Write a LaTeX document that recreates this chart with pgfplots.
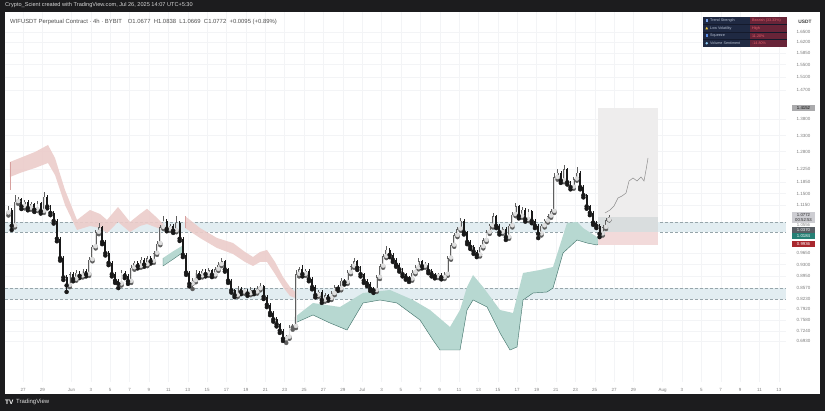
\documentclass[border=0pt]{standalone}
\usepackage{fontspec}
\setmainfont{Liberation Sans}
\usepackage{pgfplots}
\pgfplotsset{compat=1.18}
\usepackage{pgfplotstable}

\definecolor{bgdark}{RGB}{28,28,30}
\definecolor{gridc}{RGB}{243,244,246}
\definecolor{tickc}{RGB}{125,125,125}
\definecolor{upc}{RGB}{95,95,95}
\definecolor{dnc}{RGB}{25,25,25}
\definecolor{zonec}{RGB}{226,237,241}
\definecolor{zoneline}{RGB}{150,165,170}
\definecolor{redband}{RGB}{236,204,202}
\definecolor{redline}{RGB}{215,160,158}
\definecolor{grnband}{RGB}{183,216,209}
\definecolor{grnline}{RGB}{70,118,110}
\definecolor{boxgray}{RGB}{238,237,237}
\definecolor{boxdark}{RGB}{212,217,219}
\definecolor{boxred}{RGB}{242,218,218}
\definecolor{projc}{RGB}{140,140,140}
\definecolor{tnavy}{RGB}{31,41,66}
\definecolor{tmaroon}{RGB}{104,36,56}
\definecolor{tsep}{RGB}{20,26,44}
\definecolor{tleft}{RGB}{185,195,212}
\definecolor{tright}{RGB}{232,96,108}
\definecolor{icA}{RGB}{120,160,230}
\definecolor{icB}{RGB}{240,200,60}
\definecolor{icC}{RGB}{90,140,230}
\definecolor{icD}{RGB}{140,200,240}
\definecolor{titlec}{RGB}{215,215,215}
\definecolor{headc}{RGB}{80,80,80}
\definecolor{usdtc}{RGB}{60,60,60}
\definecolor{hlA}{RGB}{170,170,172}
\definecolor{hlB}{RGB}{205,205,210}
\definecolor{hlC}{RGB}{88,94,100}
\definecolor{hlD}{RGB}{38,128,118}
\definecolor{hlE}{RGB}{168,40,46}
\definecolor{darktext}{RGB}{40,40,40}
\definecolor{footc}{RGB}{225,225,225}

% 8h candles, n = candle index, day = (n-4.5)/3 counted from May 27
\pgfplotstableread{
n o h l c
0 1.090 1.112 1.082 1.100
1 1.100 1.104 1.037 1.050
2 1.050 1.146 1.045 1.125
3 1.125 1.140 1.118 1.132
4 1.132 1.136 1.102 1.110
5 1.110 1.131 1.104 1.125
6 1.125 1.129 1.098 1.105
7 1.105 1.124 1.100 1.118
8 1.118 1.122 1.093 1.100
9 1.100 1.127 1.096 1.120
10 1.120 1.124 1.088 1.095
11 1.095 1.155 1.090 1.140
12 1.140 1.145 1.104 1.110
13 1.110 1.116 1.083 1.090
14 1.090 1.095 1.057 1.065
15 1.065 1.070 1.002 1.010
16 1.010 1.016 0.942 0.950
17 0.950 0.956 0.882 0.890
18 0.890 0.896 0.845 0.865
19 0.865 0.908 0.860 0.900
20 0.900 0.906 0.878 0.885
21 0.885 0.912 0.880 0.905
22 0.905 0.910 0.888 0.895
23 0.895 0.917 0.890 0.910
24 0.910 0.915 0.893 0.900
25 0.900 0.952 0.895 0.945
26 0.945 0.992 0.940 0.985
27 0.985 1.038 0.980 1.030
28 1.030 1.060 1.024 1.045
29 1.045 1.050 0.993 1.000
30 1.000 1.006 0.958 0.965
31 0.965 0.971 0.928 0.935
32 0.935 0.940 0.893 0.900
33 0.900 0.906 0.873 0.880
34 0.880 0.885 0.857 0.870
35 0.870 0.912 0.865 0.905
36 0.905 0.911 0.888 0.895
37 0.895 0.900 0.870 0.878
38 0.878 0.927 0.873 0.920
39 0.920 0.942 0.914 0.935
40 0.935 0.940 0.918 0.925
41 0.925 0.952 0.920 0.945
42 0.945 0.950 0.923 0.930
43 0.930 0.957 0.925 0.950
44 0.950 0.955 0.933 0.940
45 0.940 0.972 0.935 0.965
46 0.965 1.002 0.960 0.995
47 0.995 1.052 0.990 1.045
48 1.045 1.080 1.040 1.065
49 1.065 1.070 1.033 1.040
50 1.040 1.057 1.034 1.050
51 1.050 1.055 1.028 1.035
52 1.035 1.080 1.030 1.060
53 1.060 1.065 1.003 1.010
54 1.010 1.015 0.953 0.960
55 0.960 0.966 0.898 0.905
56 0.905 0.910 0.862 0.870
57 0.870 0.887 0.854 0.880
58 0.880 0.912 0.875 0.905
59 0.905 0.910 0.888 0.895
60 0.895 0.917 0.890 0.910
61 0.910 0.915 0.893 0.900
62 0.900 0.919 0.895 0.912
63 0.912 0.917 0.891 0.898
64 0.898 0.922 0.893 0.915
65 0.915 0.937 0.910 0.930
66 0.930 0.950 0.925 0.940
67 0.940 0.945 0.908 0.915
68 0.915 0.920 0.873 0.880
69 0.880 0.885 0.843 0.850
70 0.850 0.855 0.829 0.835
71 0.835 0.862 0.830 0.855
72 0.855 0.860 0.838 0.845
73 0.845 0.857 0.840 0.850
74 0.850 0.855 0.833 0.840
75 0.840 0.859 0.835 0.852
76 0.852 0.857 0.838 0.845
77 0.845 0.862 0.840 0.855
78 0.855 0.873 0.850 0.862
79 0.862 0.867 0.823 0.830
80 0.830 0.835 0.798 0.805
81 0.805 0.810 0.773 0.780
82 0.780 0.786 0.753 0.760
83 0.760 0.766 0.738 0.745
84 0.745 0.750 0.718 0.725
85 0.725 0.730 0.693 0.700
86 0.700 0.712 0.687 0.705
87 0.705 0.742 0.700 0.735
88 0.735 0.745 0.728 0.738
89 0.738 0.913 0.733 0.900
90 0.900 0.922 0.893 0.915
91 0.915 0.928 0.893 0.900
92 0.900 0.917 0.895 0.910
93 0.910 0.915 0.878 0.885
94 0.885 0.890 0.853 0.860
95 0.860 0.865 0.828 0.835
96 0.835 0.852 0.830 0.845
97 0.845 0.850 0.811 0.820
98 0.820 0.842 0.815 0.835
99 0.835 0.840 0.818 0.825
100 0.825 0.847 0.820 0.840
101 0.840 0.867 0.835 0.860
102 0.860 0.865 0.848 0.855
103 0.855 0.887 0.850 0.880
104 0.880 0.885 0.868 0.875
105 0.875 0.912 0.870 0.905
106 0.905 0.932 0.900 0.925
107 0.925 0.950 0.920 0.940
108 0.940 0.945 0.913 0.920
109 0.920 0.925 0.893 0.900
110 0.900 0.905 0.873 0.880
111 0.880 0.885 0.863 0.870
112 0.870 0.875 0.848 0.855
113 0.855 0.860 0.842 0.850
114 0.850 0.897 0.845 0.890
115 0.890 0.932 0.885 0.925
116 0.925 0.962 0.920 0.955
117 0.955 0.987 0.950 0.975
118 0.975 0.980 0.953 0.960
119 0.960 0.965 0.938 0.945
120 0.945 0.950 0.923 0.930
121 0.930 0.935 0.908 0.915
122 0.915 0.920 0.893 0.900
123 0.900 0.905 0.883 0.890
124 0.890 0.895 0.876 0.885
125 0.885 0.912 0.880 0.905
126 0.905 0.927 0.900 0.920
127 0.920 0.950 0.915 0.940
128 0.940 0.945 0.918 0.925
129 0.925 0.937 0.920 0.930
130 0.930 0.935 0.903 0.910
131 0.910 0.915 0.893 0.900
132 0.900 0.905 0.887 0.893
133 0.893 0.905 0.888 0.898
134 0.898 0.903 0.884 0.890
135 0.890 0.907 0.885 0.900
136 0.900 0.957 0.895 0.950
137 0.950 0.997 0.945 0.990
138 0.990 1.027 0.985 1.020
139 1.020 1.047 1.015 1.040
140 1.040 1.074 1.035 1.065
141 1.065 1.070 1.023 1.030
142 1.030 1.035 0.993 1.000
143 1.000 1.005 0.978 0.985
144 0.985 0.990 0.963 0.970
145 0.970 0.975 0.953 0.960
146 0.960 0.992 0.955 0.985
147 0.985 1.012 0.980 1.005
148 1.005 1.037 1.000 1.030
149 1.030 1.057 1.025 1.050
150 1.050 1.090 1.045 1.080
151 1.080 1.085 1.043 1.050
152 1.050 1.055 1.023 1.030
153 1.030 1.047 1.025 1.040
154 1.040 1.045 1.006 1.015
155 1.015 1.057 1.010 1.050
156 1.050 1.092 1.045 1.085
157 1.085 1.121 1.080 1.110
158 1.110 1.115 1.073 1.080
159 1.080 1.107 1.075 1.100
160 1.100 1.105 1.063 1.070
161 1.070 1.102 1.065 1.095
162 1.095 1.100 1.058 1.065
163 1.065 1.070 1.043 1.050
164 1.050 1.055 1.012 1.025
165 1.025 1.057 1.020 1.050
166 1.050 1.072 1.045 1.065
167 1.065 1.087 1.060 1.080
168 1.080 1.102 1.075 1.095
169 1.095 1.214 1.090 1.200
170 1.200 1.225 1.193 1.215
171 1.215 1.220 1.183 1.190
172 1.190 1.238 1.185 1.225
173 1.225 1.230 1.178 1.185
174 1.185 1.190 1.163 1.170
175 1.170 1.202 1.165 1.195
176 1.195 1.232 1.190 1.215
177 1.215 1.220 1.163 1.170
178 1.170 1.175 1.138 1.145
179 1.145 1.150 1.103 1.110
180 1.110 1.115 1.083 1.090
181 1.090 1.095 1.053 1.060
182 1.060 1.065 1.043 1.050
183 1.050 1.055 1.015 1.025
184 1.025 1.052 1.020 1.045
185 1.045 1.074 1.040 1.0677
186 1.0677 1.0838 1.0669 1.0772
}\candles

\begin{document}
\begin{tikzpicture}
\fill[bgdark] (0,0) rectangle (825pt,411pt);
\fill[white] (5pt,17pt) rectangle (820pt,399pt);
\begin{axis}[
    at={(5pt,29pt)}, anchor=south west,
    scale only axis, width=781pt, height=370pt,
    xmin=-1.858, xmax=78.74, ymin=0.5658, ymax=1.7128,
    axis line style={draw=none}, tick style={draw=none},
    grid=major, grid style={gridc, line width=0.35pt},
    xtick={0,2,5,7,9,11,13,15,17,19,21,23,25,27,29,31,33,35,37,39,41,43,45,47,49,51,53,55,57,59,61,63,66,68,70,72,74,76,78},
    xticklabels={27,29,Jun,3,5,7,9,11,13,15,17,19,21,23,25,27,29,Jul,3,5,7,9,11,13,15,17,19,21,23,25,27,29,Aug,3,5,7,9,11,13},
    ytick={0.6930,0.7240,0.7580,0.7920,0.8230,0.8570,0.8950,0.9300,0.9650,1.1150,1.1500,1.1850,1.2250,1.2800,1.3300,1.3800,1.4700,1.5100,1.5500,1.5850,1.6200,1.6500},
    yticklabel pos=right,
    ticklabel style={font=\fontsize{4.5}{5}\selectfont, text=tickc},
    xticklabel style={yshift=-3pt},
    yticklabel style={xshift=7pt, /pgf/number format/fixed, /pgf/number format/fixed zerofill, /pgf/number format/precision=4},
    /pgf/number format/assume math mode=true,
]
% support / resistance zones
\addplot[fill=zonec, draw=none] coordinates {(-1.858,1.0618) (78.74,1.0618) (78.74,1.0308) (-1.858,1.0308)};
\addplot[fill=zonec, draw=none] coordinates {(-1.858,0.8572) (78.74,0.8572) (78.74,0.8231) (-1.858,0.8231)};
\addplot[zoneline, densely dashed, line width=0.4pt] coordinates {(-1.858,1.0618) (78.74,1.0618)};
\addplot[zoneline, densely dashed, line width=0.4pt] coordinates {(-1.858,1.0308) (78.74,1.0308)};
\addplot[zoneline, densely dashed, line width=0.4pt] coordinates {(-1.858,0.8572) (78.74,0.8572)};
\addplot[zoneline, densely dashed, line width=0.4pt] coordinates {(-1.858,0.8231) (78.74,0.8231)};

% bearish bands
\addplot[fill=redband, draw=none, fill opacity=0.9] coordinates {
(-1.342,1.2478) (-0.310,1.2602) (1.238,1.2788) (2.580,1.3005) (3.302,1.2602) (4.334,1.161) (5.573,1.068) (6.914,1.099) (7.946,1.0866) (8.669,1.068) (9.804,1.1083) (11.042,1.0618) (12.074,1.0866) (12.797,1.1028) (13.622,1.0804) (14.448,1.0556)
(14.448,1.037) (13.622,1.0463) (12.797,1.0556) (12.074,1.0494) (11.042,1.0308) (9.804,1.0618) (8.669,1.0277) (7.946,1.0432) (6.914,1.0494) (5.573,1.037) (4.334,1.1145) (3.302,1.2075) (2.580,1.2447) (1.238,1.2292) (-0.310,1.2137) (-1.342,1.2013)};
\addplot[redline, line width=0.5pt] coordinates {(-1.342,1.161) (-1.342,1.2478)};
\addplot[fill=redband, draw=none, fill opacity=0.9] coordinates {
(16.718,1.0804) (18.266,1.0432) (20.021,1.0122) (21.672,0.9967) (22.910,0.9688) (23.736,0.9533) (24.458,0.9688) (25.181,0.975) (26.006,0.9378) (26.832,0.8913) (27.554,0.8603) (28.070,0.8448)
(28.070,0.8262) (27.554,0.8324) (26.832,0.8603) (26.006,0.9006) (25.181,0.9378) (24.458,0.9378) (23.736,0.9254) (22.910,0.9378) (21.672,0.9626) (20.021,0.9812) (18.266,1.0122) (16.718,1.0432)};
\addplot[redline, line width=0.5pt] coordinates {(16.718,1.0432) (16.718,1.0804)};

% bullish bands
\addplot[fill=grnband, draw=none] coordinates {
(14.448,0.950) (15.377,0.9688) (16.409,0.9874) (16.409,0.9657) (15.377,0.944) (14.448,0.9254)};
\addplot[grnline, line width=0.4pt] coordinates {(14.448,0.950) (14.448,0.9254) (15.377,0.944) (16.409,0.9657)};
\addplot[fill=grnband, draw=none] coordinates {
(28.070,0.7673) (29.928,0.8107) (32.714,0.7983) (35.088,0.8417) (37.874,0.851) (40.248,0.82) (42.002,0.789) (44.066,0.7363) (45.098,0.789) (45.820,0.8603) (46.440,0.8975) (47.472,0.8603) (49.226,0.789) (50.568,0.7797) (51.600,0.9037) (53.354,0.913) (54.696,0.9223) (56.141,1.0587) (57.172,1.0618) (57.792,1.0432) (59.236,1.0153) (59.856,1.0184) (60.578,1.037)
(60.578,1.0122) (59.236,0.9905) (58.204,0.9967) (57.172,1.006) (55.728,0.9657) (54.696,0.8572) (54.077,0.8448) (52.632,0.8417) (51.600,0.82) (50.981,0.6743) (50.258,0.665) (49.226,0.7177) (47.884,0.7983) (46.440,0.82) (45.820,0.789) (45.098,0.665) (43.034,0.665) (42.312,0.696) (40.970,0.758) (38.596,0.8107) (36.842,0.82) (35.088,0.8107) (33.437,0.727) (31.682,0.7487) (29.928,0.7735) (28.070,0.7487)};
\addplot[grnline, line width=0.45pt] coordinates {
(60.578,1.0122) (59.236,0.9905) (58.204,0.9967) (57.172,1.006) (55.728,0.9657) (54.696,0.8572) (54.077,0.8448) (52.632,0.8417) (51.600,0.82) (50.981,0.6743) (50.258,0.665) (49.226,0.7177) (47.884,0.7983) (46.440,0.82) (45.820,0.789) (45.098,0.665) (43.034,0.665) (42.312,0.696) (40.970,0.758) (38.596,0.8107) (36.842,0.82) (35.088,0.8107) (33.437,0.727) (31.682,0.7487) (29.928,0.7735) (28.070,0.7487) (28.070,0.7673)};

% long position tool
\addplot[fill=boxgray, draw=none] coordinates {(59.339,1.0308) (65.531,1.0308) (65.531,1.4152) (59.339,1.4152)};
\addplot[fill=boxdark, draw=none, fill opacity=0.8] coordinates {(59.339,1.0308) (65.531,1.0308) (65.531,1.0772) (59.339,1.0772)};
\addplot[fill=boxred, draw=none] coordinates {(59.339,0.9905) (65.531,0.9905) (65.531,1.0308) (59.339,1.0308)};

% candles: wicks
\addplot[only marks, mark=none, color=upc, restrict expr to domain={\thisrow{c}-\thisrow{o}}{0:1},
  error bars/.cd, y dir=plus, y explicit, error mark=none, error bar style={line width=0.5pt}]
  table[x expr=(\thisrow{n}-4.5)/3, y=l, y error expr=\thisrow{h}-\thisrow{l}] {\candles};
\addplot[only marks, mark=none, color=dnc, restrict expr to domain={\thisrow{c}-\thisrow{o}}{-1:0},
  error bars/.cd, y dir=plus, y explicit, error mark=none, error bar style={line width=0.5pt}]
  table[x expr=(\thisrow{n}-4.5)/3, y=l, y error expr=\thisrow{h}-\thisrow{l}] {\candles};
% candles: bodies (up candles hollow)
\addplot[only marks, mark=none, color=upc, restrict expr to domain={\thisrow{c}-\thisrow{o}}{0:1},
  error bars/.cd, y dir=plus, y explicit, error mark=none, error bar style={line width=1.9pt}]
  table[x expr=(\thisrow{n}-4.5)/3, y=o, y error expr=\thisrow{c}-\thisrow{o}] {\candles};
\addplot[only marks, mark=none, color=white!80!upc, restrict expr to domain={\thisrow{c}-\thisrow{o}}{0.004:1},
  error bars/.cd, y dir=plus, y explicit, error mark=none, error bar style={line width=0.8pt}]
  table[x expr=(\thisrow{n}-4.5)/3, y expr=\thisrow{o}+0.0015, y error expr=\thisrow{c}-\thisrow{o}-0.003] {\candles};
\addplot[only marks, mark=none, color=dnc, restrict expr to domain={\thisrow{c}-\thisrow{o}}{-1:0},
  error bars/.cd, y dir=plus, y explicit, error mark=none, error bar style={line width=1.9pt}]
  table[x expr=(\thisrow{n}-4.5)/3, y=c, y error expr=\thisrow{o}-\thisrow{c}] {\candles};

% projected path
\addplot[projc, line width=0.5pt] coordinates {
(60.062,1.0897) (60.578,1.099) (60.991,1.1114) (61.403,1.1362) (61.816,1.1424) (62.229,1.1517) (62.539,1.1889) (62.951,1.1982) (63.364,1.1889) (63.777,1.2013) (64.087,1.1889) (64.293,1.223) (64.500,1.2602)};
\end{axis}

% header lines
\node[anchor=west, inner sep=0, text=titlec, font=\fontsize{5.6}{6}\selectfont] at (5pt,405.5pt)
  {Crypto\_Scient created with TradingView.com, Jul 26, 2025 14:07 UTC+5:30};
\node[anchor=west, inner sep=0, text=headc, font=\fontsize{5.9}{6.5}\selectfont] at (10pt,389pt)
  {WIFUSDT Perpetual Contract · 4h · BYBIT\quad O1.0677\ \ H1.0838\ \ L1.0669\ \ C1.0772\ \ +0.0095 (+0.89\%)};
\node[anchor=center, inner sep=0, text=usdtc, font=\fontsize{4.8}{5}\selectfont\bfseries] at (805pt,389pt) {USDT};

% indicator table
\fill[tnavy] (703pt,394pt) rectangle (750pt,364pt);
\fill[tmaroon] (750pt,394pt) rectangle (787pt,364pt);
\foreach \yy in {386.5,379,371.5} {\draw[tsep, line width=0.3pt] (703pt,\yy pt) -- (787pt,\yy pt);}
\fill[icA] (705.5pt,389pt) rectangle (708pt,391.5pt);
\fill[icB] (705.3pt,381.5pt) -- (708.2pt,381.5pt) -- (706.75pt,384.2pt) -- cycle;
\fill[icC] (705.5pt,374pt) rectangle (708pt,376.5pt);
\fill[icD] (706.75pt,367.75pt) circle (1.3pt);
\begin{scope}[every node/.style={anchor=west, inner sep=0, font=\fontsize{3.7}{4}\selectfont}]
\node[text=tleft] at (710pt,390.25pt) {Trend Strength};
\node[text=tleft] at (710pt,382.75pt) {Low Volatility};
\node[text=tleft] at (710pt,375.25pt) {Squeeze};
\node[text=tleft] at (710pt,367.75pt) {Volume Sentiment};
\node[text=tright] at (752pt,390.25pt) {Bearish (33.33\%)};
\node[text=tright] at (752pt,382.75pt) {High};
\node[text=tright] at (752pt,375.25pt) {11.20\%};
\node[text=tright] at (752pt,367.75pt) {-14.80\%};
\end{scope}

% price scale highlights
\begin{scope}[every node/.style={anchor=center, inner sep=0, font=\fontsize{4.3}{4.6}\selectfont}]
\fill[hlA] (792pt,300pt) rectangle (815pt,306pt);
\node[text=black] at (803.5pt,303pt) {1.4152};
\fill[hlB] (792pt,188pt) rectangle (815pt,199pt);
\node[text=darktext] at (803.5pt,196pt) {1.0772};
\node[text=darktext] at (803.5pt,191pt) {00:52:53};
\node[text=tickc] at (803.5pt,185.5pt) {1.0556};
\fill[hlC] (792pt,178pt) rectangle (815pt,183.5pt);
\node[text=white] at (803.5pt,180.75pt) {1.0370};
\fill[hlD] (792pt,172pt) rectangle (815pt,177.5pt);
\node[text=white] at (803.5pt,174.75pt) {1.0184};
\fill[hlE] (792pt,164pt) rectangle (815pt,170pt);
\node[text=white] at (803.5pt,167pt) {0.9936};
\end{scope}

% footer logo
\node[anchor=west, inner sep=0, text=white, font=\fontsize{6.5}{7}\selectfont\bfseries] at (5pt,9pt) {TV};
\node[anchor=west, inner sep=0, text=footc, font=\fontsize{6}{7}\selectfont] at (16pt,9pt) {TradingView};
\end{tikzpicture}
\end{document}
